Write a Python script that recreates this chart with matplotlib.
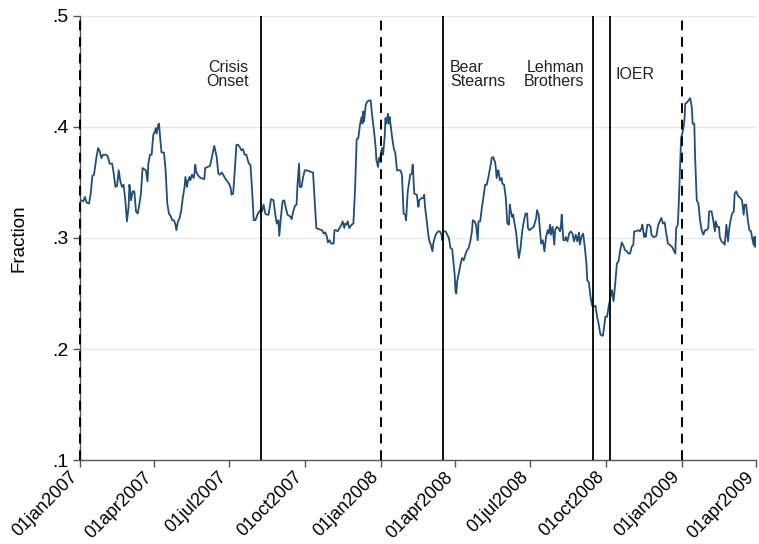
import matplotlib
matplotlib.use("Agg")
import matplotlib.pyplot as plt
import pandas as pd

# ---------------- data ----------------
start_date = "2007-01-01"
day_offset = [
    1, 4, 6, 8, 11, 13, 15, 17, 20, 22, 24, 26, 28, 32, 34, 36, 39, 41, 43, 45,
    47, 49, 51, 53, 55, 56, 57, 59, 60, 61, 62, 64, 66, 68, 70, 72, 74, 76, 80, 82,
    83, 85, 87, 89, 91, 92, 93, 95, 96, 97, 99, 102, 104, 106, 108, 110, 112, 114, 116, 117,
    119, 121, 123, 125, 127, 128, 130, 131, 133, 134, 136, 138, 139, 140, 141, 143, 145, 147, 151, 152,
    155, 158, 161, 163, 166, 168, 170, 172, 174, 176, 178, 181, 183, 184, 186, 188, 190, 192, 194, 196,
    198, 200, 202, 205, 207, 209, 211, 213, 216, 219, 221, 223, 225, 227, 229, 232, 235, 237, 239, 241,
    242, 244, 246, 248, 250, 252, 254, 256, 257, 259, 261, 263, 264, 266, 267, 269, 271, 273, 275, 279,
    283, 285, 287, 290, 294, 296, 298, 300, 301, 303, 305, 308, 309, 311, 313, 315, 317, 319, 321, 322,
    324, 325, 327, 328, 330, 332, 334, 336, 338, 340, 342, 343, 344, 345, 347, 349, 352, 353, 355, 357,
    359, 360, 362, 363, 364, 366, 367, 368, 370, 371, 372, 374, 375, 376, 379, 381, 383, 385, 387, 389,
    391, 393, 395, 396, 398, 401, 403, 404, 406, 409, 411, 412, 415, 417, 418, 419, 421, 423, 424, 426,
    428, 429, 430, 432, 435, 437, 439, 440, 441, 444, 446, 448, 450, 452, 453, 455, 456, 457, 458, 460,
    462, 464, 466, 468, 470, 472, 474, 476, 477, 479, 481, 483, 484, 486, 488, 490, 492, 494, 496, 498,
    499, 500, 502, 503, 504, 505, 506, 508, 509, 510, 512, 513, 515, 517, 519, 521, 522, 523, 525, 526,
    528, 530, 531, 533, 535, 537, 539, 541, 543, 544, 546, 549, 551, 554, 555, 557, 559, 560, 562, 564,
    566, 568, 569, 571, 572, 574, 576, 577, 579, 581, 583, 584, 585, 587, 589, 590, 592, 594, 596, 598,
    600, 602, 604, 606, 607, 609, 611, 613, 615, 616, 618, 620, 622, 624, 626, 628, 630, 632, 634, 635,
    636, 638, 640, 642, 644, 646, 648, 650, 652, 654, 656, 658, 660, 662, 664, 666, 668, 670, 672, 673,
    675, 678, 680, 682, 683, 685, 686, 687, 689, 691, 693, 694, 696, 698, 700, 702, 704, 706, 708, 710,
    712, 714, 716, 719, 721, 723, 724, 726, 727, 729, 730, 732, 734, 735, 737, 739, 741, 743, 744, 746,
    747, 749, 751, 753, 755, 757, 759, 761, 763, 764, 767, 769, 771, 772, 774, 776, 777, 779, 781, 783,
    785, 787, 788, 790, 792, 794, 795, 797, 799, 802, 804, 806, 807, 809, 811, 813, 815, 816, 818, 819,
    820, 821,
]
fraction = [
    .334, .333, .337, .332, .331, .340, .356, .357, .373, .381, .378, .372, .375, .375, .373, .367, .367, .358, .346, .347,
    .361, .351, .346, .348, .334, .325, .315, .328, .348, .342, .334, .342, .342, .324, .322, .330, .340, .363, .361, .351,
    .367, .375, .375, .393, .396, .399, .394, .402, .403, .393, .377, .377, .361, .331, .322, .320, .316, .316, .312, .307,
    .315, .318, .325, .337, .346, .355, .346, .351, .355, .352, .357, .354, .358, .366, .360, .357, .355, .354, .353, .363,
    .364, .365, .376, .383, .373, .358, .357, .359, .357, .354, .352, .349, .345, .339, .340, .361, .384, .384, .382, .379,
    .380, .375, .375, .367, .366, .343, .316, .316, .322, .325, .324, .330, .322, .321, .321, .335, .334, .322, .313, .316,
    .302, .319, .333, .334, .327, .321, .320, .319, .317, .324, .329, .330, .346, .367, .346, .346, .355, .361, .361, .360,
    .359, .334, .309, .308, .307, .304, .305, .301, .296, .298, .295, .295, .307, .307, .306, .309, .311, .315, .309, .313,
    .312, .315, .309, .310, .312, .313, .343, .389, .390, .402, .409, .403, .414, .405, .420, .423, .424, .424, .409, .397,
    .382, .370, .364, .372, .369, .379, .381, .375, .391, .408, .403, .412, .403, .409, .391, .381, .376, .361, .361, .361,
    .357, .322, .321, .316, .342, .357, .358, .366, .340, .339, .328, .334, .336, .336, .339, .328, .316, .303, .298, .294,
    .288, .295, .298, .303, .306, .306, .303, .298, .306, .306, .303, .300, .291, .290, .282, .267, .252, .250, .261, .268,
    .276, .282, .280, .285, .289, .291, .297, .306, .316, .315, .312, .298, .315, .315, .327, .337, .348, .348, .355, .363,
    .367, .372, .373, .370, .369, .363, .354, .361, .357, .352, .354, .349, .348, .337, .313, .312, .330, .325, .319, .321,
    .312, .303, .294, .282, .291, .306, .315, .322, .322, .309, .307, .309, .310, .318, .325, .321, .304, .295, .298, .288,
    .301, .307, .304, .312, .303, .310, .294, .307, .310, .309, .306, .310, .321, .298, .298, .301, .297, .304, .306, .304,
    .297, .303, .297, .305, .294, .301, .304, .292, .277, .262, .260, .247, .239, .238, .239, .229, .222, .213, .212, .212,
    .217, .229, .229, .238, .246, .253, .243, .259, .277, .279, .289, .296, .293, .289, .288, .286, .286, .292, .294, .306,
    .306, .307, .306, .309, .312, .301, .304, .301, .312, .312, .310, .303, .301, .301, .302, .311, .315, .318, .313, .314,
    .304, .295, .294, .292, .289, .286, .309, .312, .328, .370, .390, .396, .405, .421, .422, .424, .426, .418, .403, .403,
    .373, .334, .331, .316, .307, .303, .307, .307, .309, .324, .324, .316, .306, .315, .310, .310, .301, .297, .296, .294,
    .312, .297, .306, .316, .322, .324, .340, .342, .338, .336, .334, .321, .330, .330, .316, .307, .306, .301, .294, .301,
    .292, .301,
]

event_dates = ["2007-08-09", "2008-03-17", "2008-09-15", "2008-10-06"]
event_labels = ["Crisis\nOnset", "Bear\nStearns", "Lehman\nBrothers", "IOER"]
year_start_dates = ["2007-01-01", "2008-01-01", "2009-01-01"]
tick_dates = ["2007-01-01", "2007-04-01", "2007-07-01", "2007-10-01", "2008-01-01",
              "2008-04-01", "2008-07-01", "2008-10-01", "2009-01-01", "2009-04-01"]
y_ticks = [.1, .2, .3, .4, .5]
y_tick_labels = [".1", ".2", ".3", ".4", ".5"]
y_label = "Fraction"

# ---------------- plot ----------------
plt.rcParams["font.family"] = ["Liberation Sans", "DejaVu Sans"]

dates = pd.Timestamp(start_date) + pd.to_timedelta(day_offset, unit="D")

fig = plt.figure(figsize=(7.59, 5.44), dpi=100)
ax = fig.add_axes([0.1054, 0.1544, 0.8907, 0.8162])

for y in y_ticks[1:]:
    ax.axhline(y, color="#e8e8e8", lw=1.0, zorder=0)

ax.plot(dates, fraction, color="#1f4e79", lw=1.3, zorder=3)

for d in year_start_dates:
    ax.axvline(pd.Timestamp(d), color="black", lw=1.4, ls=(0, (5, 3.5)), zorder=4, clip_on=False)
for d in event_dates:
    ax.axvline(pd.Timestamp(d), color="black", lw=1.3, zorder=4)

label_offsets = [(-9.0, "right"), (5.0, "left"), (-6.0, "right"), (3.5, "left")]
for d, lab, (dx, ha) in zip(event_dates, event_labels, label_offsets):
    ax.annotate(lab, xy=(pd.Timestamp(d), 0.4475), xycoords="data",
                xytext=(dx, 0), textcoords="offset points",
                ha=ha, va="center", fontsize=11.5, linespacing=0.9, color="#222222")

ax.set_xlim(pd.Timestamp(tick_dates[0]), pd.Timestamp(tick_dates[-1]))
ax.set_ylim(y_ticks[0], y_ticks[-1])

ax.set_yticks(y_ticks)
ax.set_yticklabels(y_tick_labels, fontsize=14)
ax.set_xticks([pd.Timestamp(t) for t in tick_dates])
ax.set_xticklabels([])
# rotated date labels drawn under each tick, ending just below the tick mark
for t in tick_dates:
    ts = pd.Timestamp(t)
    ax.annotate(ts.strftime("%d%b%Y").lower(), xy=(ts, 0), xycoords=("data", "axes fraction"),
                xytext=(-3.5, -10.5), textcoords="offset points", rotation=45,
                ha="right", va="center", rotation_mode="anchor", fontsize=13,
                annotation_clip=False)
ax.set_ylabel(y_label, fontsize=13.5, labelpad=18)

for s in ["top", "right"]:
    ax.spines[s].set_visible(False)
for s in ["left", "bottom"]:
    ax.spines[s].set_color("#555555")
    ax.spines[s].set_linewidth(1.0)
ax.tick_params(axis="both", direction="out", length=5, width=1.0, color="#555555", labelcolor="black")
ax.tick_params(axis="y", pad=3)

fig.savefig("out.png", dpi=100)
